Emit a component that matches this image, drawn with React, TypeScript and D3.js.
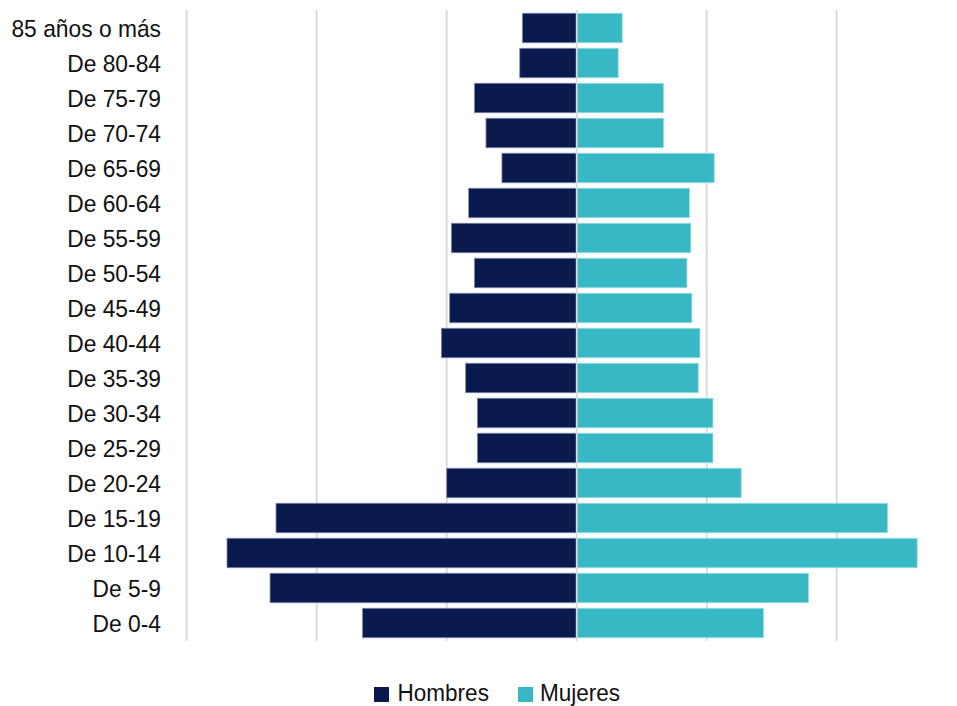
import React from "react";
import * as d3 from "d3";

const categories = [
  "85 años o más", "De 80-84", "De 75-79", "De 70-74", "De 65-69", "De 60-64",
  "De 55-59", "De 50-54", "De 45-49", "De 40-44", "De 35-39", "De 30-34",
  "De 25-29", "De 20-24", "De 15-19", "De 10-14", "De 5-9", "De 0-4",
];
const hombres = [418, 438, 787, 698, 575, 831, 964, 787, 977, 1041, 854, 764, 764, 1000, 2313, 2690, 2359, 1648];
const mujeres = [350, 319, 668, 668, 1058, 868, 878, 848, 886, 948, 935, 1048, 1048, 1265, 2391, 2619, 1783, 1437];
const gridTicks = [-3000, -2000, -1000, 0, 1000, 2000];
const seriesNames = ["Hombres", "Mujeres"];
const colors = ["#0a1a4f", "#38b7c4"];

const W = 957;
const H = 706;
const FONT = "'Liberation Sans', Arial, sans-serif";
const SX = 0.92;

export default function App() {
  const x = d3.scaleLinear().domain([-3000, 3000]).range([186.7, 966.7]);
  const y = d3.scaleBand<string>().domain(categories).range([10.5, 640.5]).paddingInner(0.157).paddingOuter(0.0785);
  const bw = y.bandwidth();
  return (
    <svg width={W} height={H} style={{ position: "absolute", left: 0, top: 0, background: "#fff" }} fontFamily={FONT}>
      {gridTicks.filter(t => t !== 0).map(t => (
        <line key={t} x1={x(t)} x2={x(t)} y1={10} y2={641} stroke="#d9d9d9" strokeWidth={1.8} />
      ))}
      {categories.map((c, i) => (
        <g key={c}>
          <rect x={x(-hombres[i])} y={y(c)!} width={x(0) - x(-hombres[i])} height={bw} fill={colors[0]} stroke="#7f8aa8" strokeWidth={0.8} />
          <rect x={x(0)} y={y(c)!} width={x(mujeres[i]) - x(0)} height={bw} fill={colors[1]} stroke="#9ddde3" strokeWidth={0.8} />
          <text transform={`translate(161,${y(c)! + bw / 2}) scale(${SX},1)`} dy="0.36em" textAnchor="end" fontSize={24.8} fill="#111">{c}</text>
        </g>
      ))}
      <line x1={x(0)} x2={x(0)} y1={10} y2={641} stroke="#d9d9d9" strokeWidth={1.8} />
      <g>
        <rect x={374} y={687} width={15} height={15} fill={colors[0]} />
        <text transform={`translate(397.5,700.5) scale(${SX},1)`} fontSize={24.5} fill="#111">{seriesNames[0]}</text>
        <rect x={518} y={687} width={15} height={15} fill={colors[1]} />
        <text transform={`translate(540,700.5) scale(${SX},1)`} fontSize={24.5} fill="#111">{seriesNames[1]}</text>
      </g>
    </svg>
  );
}
